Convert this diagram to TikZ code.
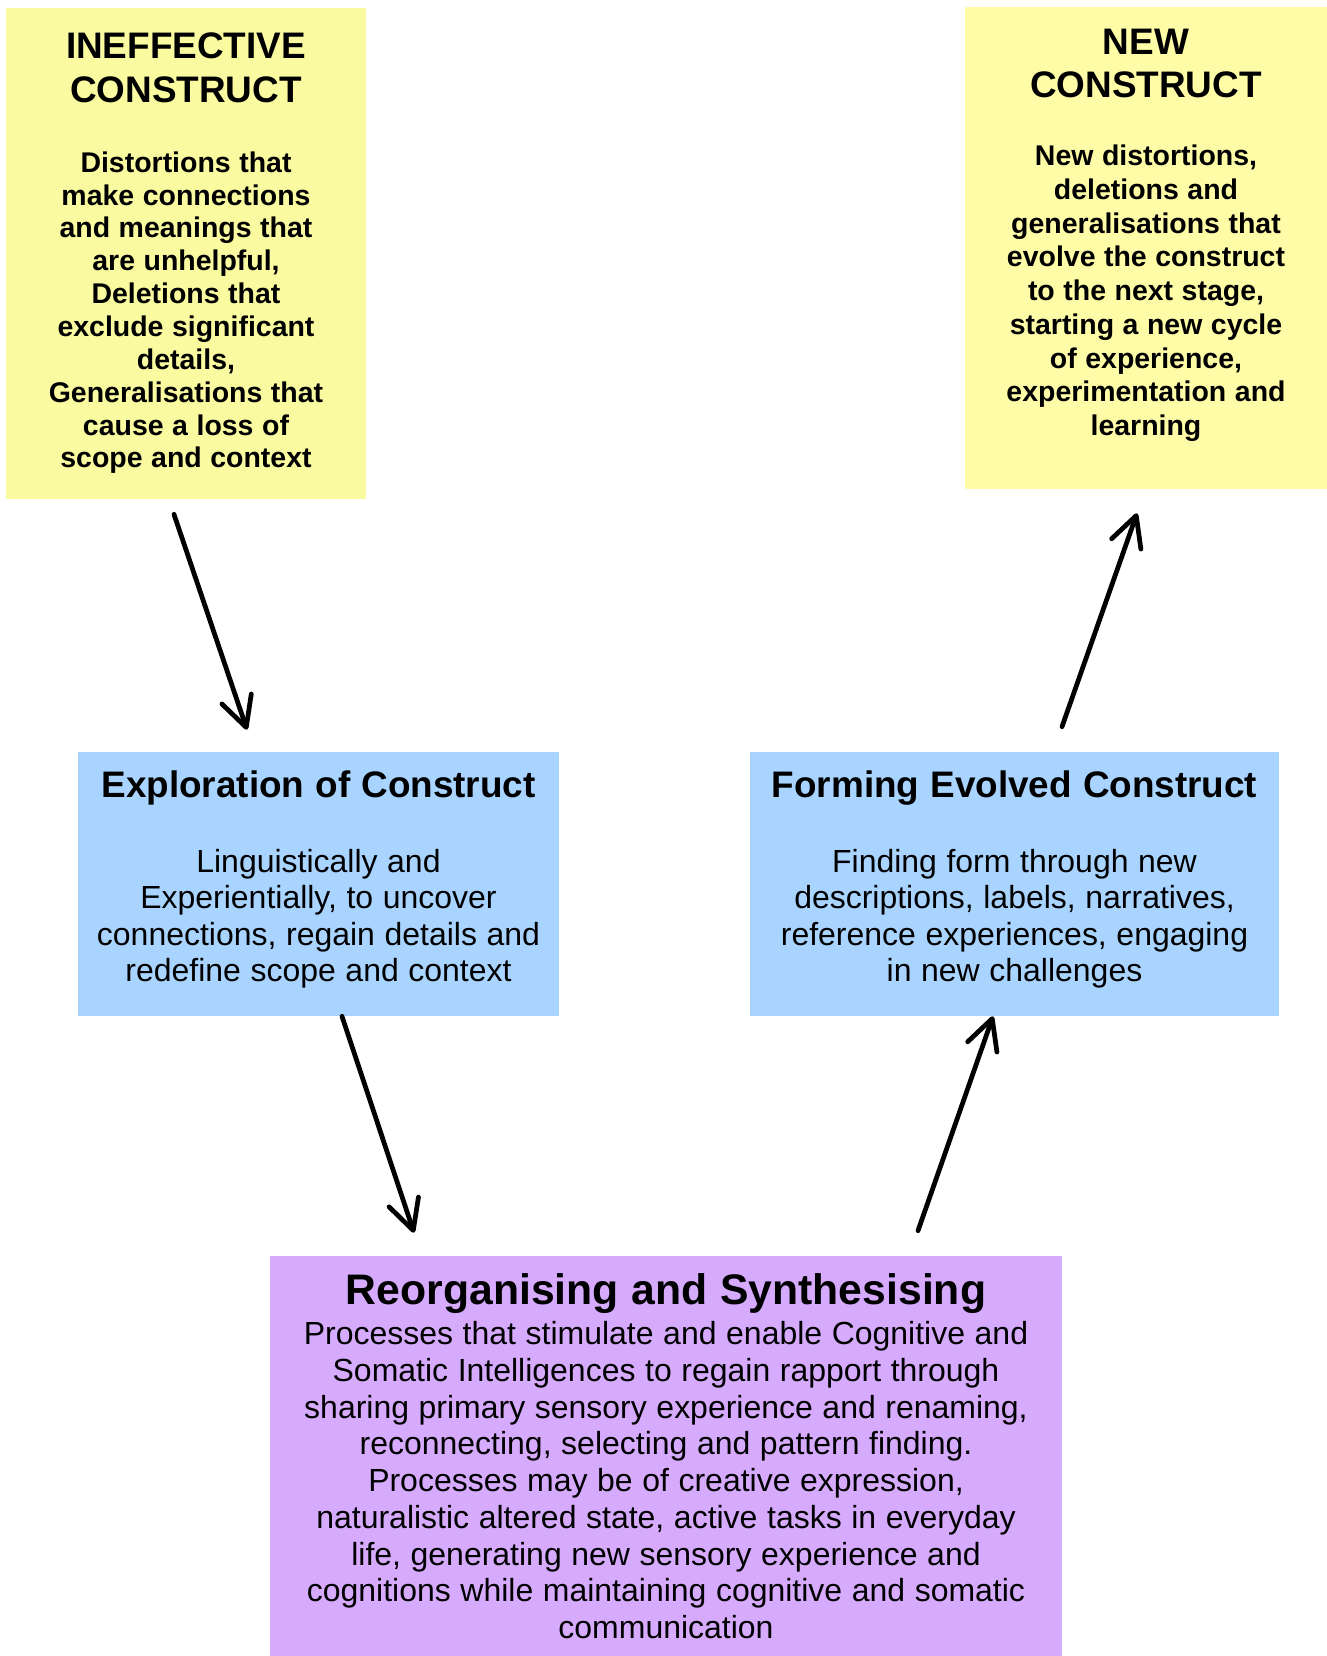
\documentclass[tikz,border=0pt]{standalone}
\usepackage{fontspec}
\setmainfont{Liberation Sans}
\usetikzlibrary{arrows.meta}
\definecolor{yfillA}{HTML}{FAFAA0}
\definecolor{yfillB}{HTML}{FFFCA8}
\definecolor{bfill}{HTML}{A8D4FF}
\definecolor{pfill}{HTML}{D6AAFC}
\newcommand{\widesp}{\spaceskip=0.3em\relax}
\newcommand{\ytitle}{\fontsize{21}{24.75}\selectfont\bfseries\widesp}
\newcommand{\ybody}{\fontsize{16.2}{18.7}\selectfont\bfseries\widesp}
\newcommand{\ybodyb}{\fontsize{16.2}{19.2}\selectfont\bfseries\widesp}
\newcommand{\btitle}{\fontsize{21}{24}\selectfont\bfseries\widesp}
\newcommand{\bbody}{\fontsize{18.2}{20.8}\selectfont\widesp}
\newcommand{\ptitle}{\fontsize{24.3}{27.8}\selectfont\bfseries\widesp}
\newcommand{\pbody}{\fontsize{18.2}{20.9}\selectfont\widesp}
\tikzset{card/.style={inner sep=0pt, align=center}}
\tikzset{flow/.style={line width=0.095cm, line cap=round}}
\tikzset{>={Straight Barb[length=0.6cm,width=0.62cm,round]}}

\begin{document}
\begin{tikzpicture}
\useasboundingbox (0,0) rectangle (26.54,-33.12);

\node[card, fill=yfillA, text width=7cm, minimum width=7.2cm, minimum height=9.82cm] (ineff) at (3.72,-5.07)
{{\ytitle INEFFECTIVE\\CONSTRUCT\par}\vspace{0.74cm}
{\ybody Distortions that\\make connections\\and meanings that\\are unhelpful,\\Deletions that\\exclude significant\\details,\\Generalisations that\\cause a loss of\\scope and context\par}};

\node[card, fill=yfillB, text width=7.04cm, minimum width=7.24cm, minimum height=9.64cm] (newc) at (22.92,-4.96)
{{\ytitle NEW\\CONSTRUCT\par}\vspace{0.68cm}
{\ybodyb New distortions,\\deletions and\\generalisations that\\evolve the construct\\to the next stage,\\starting a new cycle\\of experience,\\experimentation and\\learning\par}\kern0.51cm};

\node[card, fill=bfill, text width=9.42cm, minimum width=9.62cm, minimum height=5.28cm] (explore) at (6.37,-17.68)
{{\btitle Exploration of Construct\par}\vspace{0.75cm}
{\bbody Linguistically and\\Experientially, to uncover\\connections, regain details and\\redefine scope and context\par}\kern0.17cm};

\node[card, fill=bfill, text width=10.38cm, minimum width=10.58cm, minimum height=5.28cm] (forming) at (20.29,-17.68)
{{\btitle Forming Evolved Construct\par}\vspace{0.75cm}
{\bbody Finding form through new\\descriptions, labels, narratives,\\reference experiences, engaging\\in new challenges\par}\kern0.17cm};

\node[card, fill=pfill, text width=15.64cm, minimum width=15.84cm, minimum height=8cm] (reorg) at (13.32,-29.12)
{{\ptitle Reorganising and Synthesising\par}\vspace{0.08cm}
{\pbody Processes that stimulate and enable Cognitive and\\Somatic Intelligences to regain rapport through\\sharing primary sensory experience and renaming,\\reconnecting, selecting and pattern finding.\\Processes may be of creative expression,\\naturalistic altered state, active tasks in everyday\\life, generating new sensory experience and\\cognitions while maintaining cognitive and somatic\\communication\par}};

\draw[flow,->] ([xshift=-0.24cm,yshift=-0.3cm]ineff.south) -- ([xshift=-1.43cm,yshift=0.44cm]explore.north);
\draw[flow,->] ([xshift=0.47cm]explore.south) -- ([xshift=-5.04cm,yshift=0.46cm]reorg.north);
\draw[flow,->] ([xshift=5.04cm,yshift=0.5cm]reorg.north) -- ([xshift=-0.43cm]forming.south);
\draw[flow,->] ([xshift=0.95cm,yshift=0.5cm]forming.north) -- ([xshift=-0.18cm,yshift=-0.48cm]newc.south);
\end{tikzpicture}
\end{document}
